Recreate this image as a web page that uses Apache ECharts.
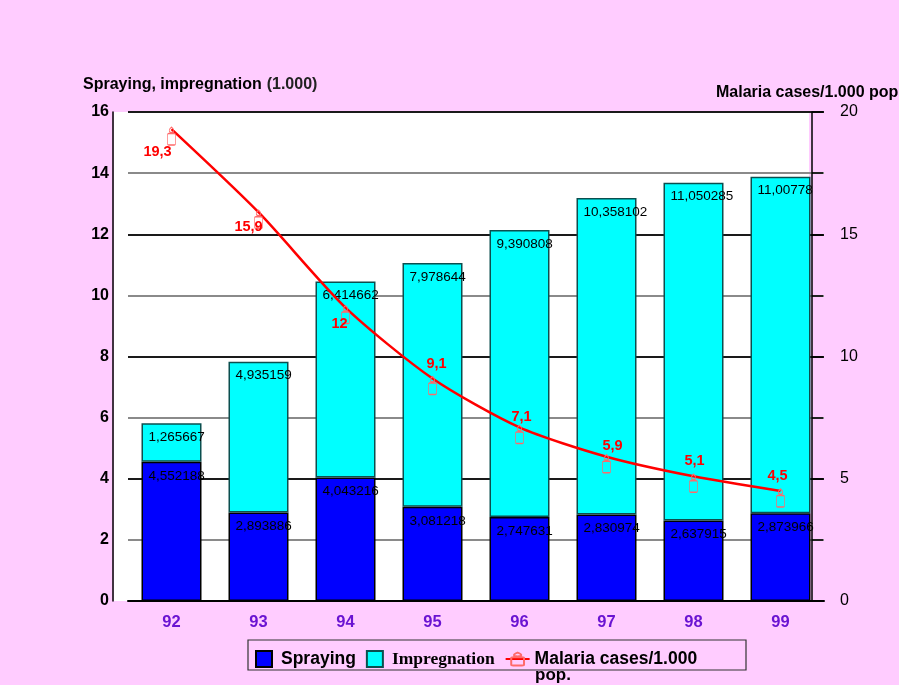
<!DOCTYPE html>
<html>
<head>
<meta charset="utf-8">
<script src="https://cdn.jsdelivr.net/npm/echarts@6/dist/echarts.min.js"></script>
<style>
  html, body { margin: 0; padding: 0; background: #FFCCFF; }
  #main { width: 899px; height: 685px; }
</style>
</head>
<body>
<div id="main"></div>
<script>
// years
var years = ['92', '93', '94', '95', '96', '97', '98', '99'];
// thousands
var spraying = [4.552188, 2.893886, 4.043216, 3.081218, 2.747631, 2.830974, 2.637915, 2.873966];
var impregnation = [1.265667, 4.935159, 6.414662, 7.978644, 9.390808, 10.358102, 11.050285, 11.00778];
// per 1.000 pop.
var malaria = [19.3, 15.9, 12, 9.1, 7.1, 5.9, 5.1, 4.5];
var leftTicks = [0, 16, 2];
var rightTicks = [0, 20, 2.5];

// where each red number sits around its point
var lblOff = [[-14, 16], [-10, 8], [-6, 9], [4, -22], [2, -17], [6, -18], [1, -22], [-3, -22]];

var candle = 'path://M4 0 C6 2 6.5 5 4 5.5 C1.5 5 2 2 4 0 Z M2 6.5 L6 6.5 Q7 6.5 7 7.5 L7 17 Q7 18 6 18 L2 18 Q1 18 1 17 L1 7.5 Q1 6.5 2 6.5 Z';
var square = 'path://M0 0 L10 0 L10 10 L0 10 Z';

function comma(v) { return String(v).replace('.', ','); }

var myChart = echarts.init(document.getElementById('main'));
var option = {
    backgroundColor: '#FFCCFF',
    textStyle: { fontFamily: 'Liberation Sans, Arial, sans-serif' },
    title: [{
        left: 78, top: 71,
        text: '{b|Spraying, impregnation} {n|(1.000)}',
        textStyle: {
            rich: {
                b: { fontWeight: 'bold', fontSize: 16, color: '#000' },
                n: { fontSize: 16, color: '#222' }
            }
        }
    }, {
        left: 711, top: 80,
        text: 'Malaria cases/1.000 pop.',
        textStyle: { fontWeight: 'bold', fontSize: 16, color: '#000' }
    }],
    graphic: [{
        type: 'rect', z: -10, silent: true,
        shape: { x: 114, y: 112, width: 695, height: 489 },
        style: { fill: '#fff' }
    }, {
        type: 'rect', silent: true,
        shape: { x: 248, y: 640, width: 498, height: 30 },
        style: { fill: 'none', stroke: '#333', lineWidth: 1.2 }
    }, {
        type: 'text', left: 535, top: 667, silent: true,
        style: { text: 'pop.', font: 'bold 17px Liberation Sans, Arial', fill: '#000' }
    }],
    legend: {
        left: 250, top: 645,
        itemWidth: 24, itemHeight: 16, itemGap: 10,
        textStyle: { fontWeight: 'bold', fontSize: 17.5, color: '#000' },
        formatter: function (name) {
            return name === 'Malaria cases/1.000 pop.' ? 'Malaria cases/1.000' : name;
        },
        data: [
            { name: 'Spraying', icon: square },
            { name: 'Impregnation', icon: square,
              textStyle: { fontFamily: 'Liberation Serif, Times New Roman, serif', fontWeight: 'bold', fontSize: 17.5 } },
            { name: 'Malaria cases/1.000 pop.' }
        ]
    },
    grid: { left: 128, right: 75, top: 112, bottom: 84 },
    xAxis: {
        type: 'category',
        data: years,
        axisLine: { lineStyle: { color: '#000', width: 2 } },
        axisTick: { show: false },
        axisLabel: { color: '#6A14D2', fontWeight: 'bold', fontSize: 16.5, margin: 13 }
    },
    yAxis: [{
        type: 'value',
        min: leftTicks[0], max: leftTicks[1], interval: leftTicks[2],
        offset: 15,
        axisLine: { show: true, lineStyle: { color: '#000', width: 1.5 } },
        axisTick: { show: false },
        axisLabel: { color: '#000', fontWeight: 'bold', fontSize: 16, margin: 4 },
        // every other line (at 4, 8, 12, 16) is darker
        splitLine: { lineStyle: { color: ['#1a1a1a', '#8a8a8a'], width: 2 } }
    }, {
        type: 'value',
        min: rightTicks[0], max: rightTicks[1], interval: rightTicks[2],
        offset: -12,
        axisLine: { show: true, lineStyle: { color: '#000', width: 1.5 } },
        axisTick: { show: true, length: 11, lineStyle: { color: '#000', width: 1.5 } },
        axisLabel: {
            color: '#000', fontSize: 16, margin: 28,
            formatter: function (v) { return v % 5 === 0 ? String(v) : ''; }
        },
        splitLine: { show: false }
    }],
    series: [{
        name: 'Spraying',
        type: 'bar',
        stack: 'a',
        barWidth: 60,
        data: spraying,
        itemStyle: { color: '#0000FF', borderColor: '#000', borderWidth: 1.5 },
        label: {
            show: true, position: 'insideTopLeft', distance: 7,
            color: '#000', fontSize: 13.5,
            formatter: function (p) { return comma(p.value); }
        }
    }, {
        name: 'Impregnation',
        type: 'bar',
        stack: 'a',
        barWidth: 60,
        data: impregnation,
        itemStyle: { color: '#00FFFF', borderColor: '#0B4F4F', borderWidth: 1.5 },
        label: {
            show: true, position: 'insideTopLeft', distance: 7,
            color: '#000', fontSize: 13.5,
            formatter: function (p) { return comma(p.value); }
        }
    }, {
        name: 'Malaria cases/1.000 pop.',
        type: 'line',
        yAxisIndex: 1,
        smooth: 0.25,
        z: 5,
        symbol: candle,
        symbolSize: [8, 18],
        symbolOffset: [0, 7],
        lineStyle: { color: '#FF0000', width: 2.5 },
        itemStyle: { color: 'rgba(255,255,255,0)', borderColor: '#FF6A6A', borderWidth: 1 },
        data: malaria.map(function (v, i) {
            return {
                value: v,
                label: { offset: lblOff[i] }
            };
        }),
        label: {
            show: true, position: 'inside',
            color: '#FF0000', fontWeight: 'bold', fontSize: 14.5,
            formatter: function (p) { return comma(p.value); }
        }
    }]
};
myChart.setOption(option);
</script>
</body>
</html>
